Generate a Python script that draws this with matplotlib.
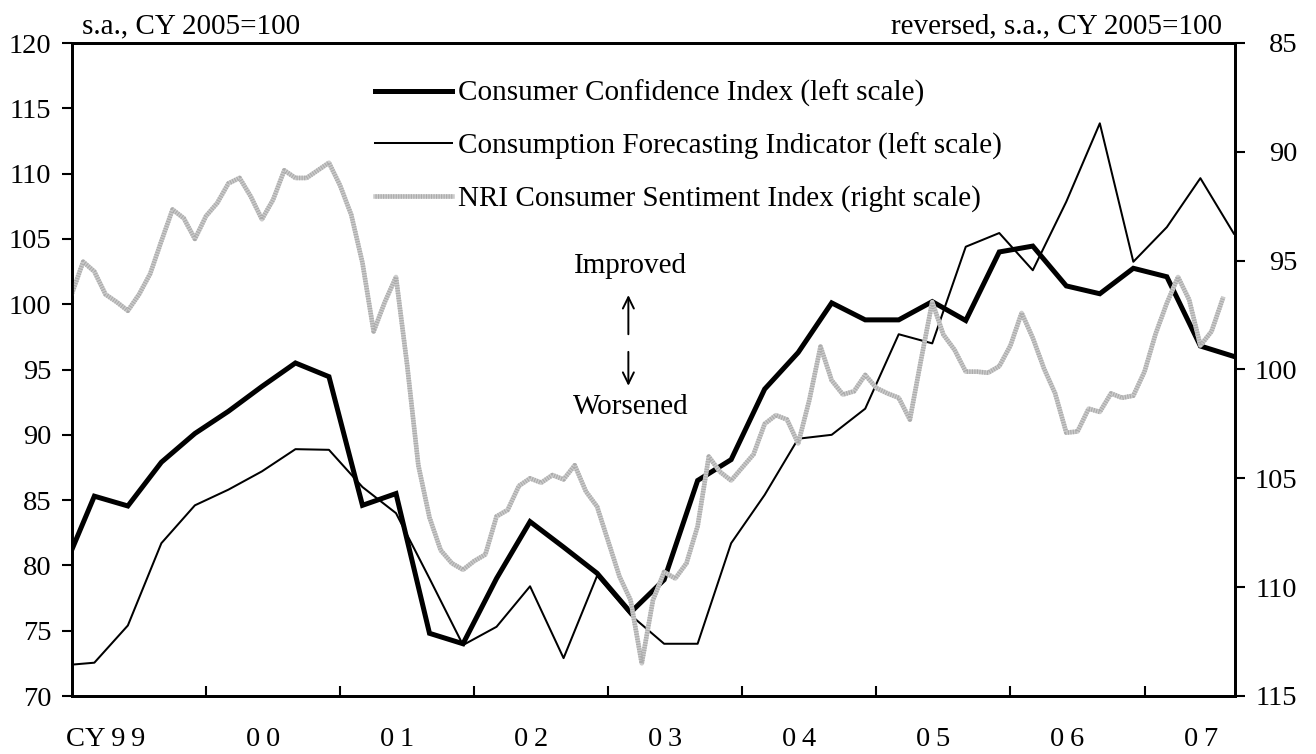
import numpy as np
import matplotlib.pyplot as plt

plt.rcParams['font.family'] = ['Liberation Serif', 'DejaVu Serif']
plt.rcParams['font.size'] = 21

# x positions are months counted from Jan 1999 (0 = Jan 99)
# quarterly surveys: Dec 1998 .. Sep 2007
quarter_months = np.arange(-1, 105, 3)
cci = [79.2, 85.3, 84.55, 87.9, 90.1, 91.8, 93.7, 95.5, 94.45, 84.6, 85.5, 74.8,
       74.0, 79.0, 83.35, 81.4, 79.4, 76.4, 78.9, 86.5, 88.1, 93.5, 96.3, 100.1,
       98.8, 98.8, 100.2, 98.75, 104.0, 104.45, 101.4, 100.8, 102.75, 102.1, 96.8, 96.0]
cfi = [72.33, 72.55, 75.4, 81.7, 84.6, 85.8, 87.2, 88.9, 88.85, 86.0, 84.0, 79.0,
       73.9, 75.3, 78.4, 72.9, 79.2, 76.2, 74.0, 74.0, 81.7, 85.4, 89.7, 90.0,
       92.0, 97.7, 97.0, 104.4, 105.45, 102.6, 107.85, 113.85, 103.25, 105.9, 109.65, 105.4]

# NRI index, monthly Jan 1999 .. Aug 2007 (right scale, reversed)
nri_months = np.arange(0, 104)
nri = [96.5, 95.05, 95.5, 96.55, 96.9, 97.3, 96.55, 95.6, 94.1, 92.65, 93.05, 94.0,
       92.95, 92.35, 91.45, 91.2, 92.05, 93.1, 92.2, 90.85, 91.2, 91.2, 90.85, 90.5,
       91.55, 92.9, 95.1, 98.25, 96.9, 95.75, 99.8, 104.4, 106.8, 108.3, 108.9, 109.2,
       108.8, 108.5, 106.75, 106.45, 105.35, 105.0, 105.2, 104.85, 105.05, 104.4, 105.6, 106.3,
       107.9, 109.5, 110.6, 113.5, 110.6, 109.3, 109.6, 108.9, 107.2, 104.0, 104.7, 105.1,
       104.5, 103.9, 102.5, 102.1, 102.3, 103.4, 101.4, 98.95, 100.5, 101.15, 101.0, 100.25,
       100.85, 101.1, 101.3, 102.3, 99.55, 96.9, 98.4, 99.1, 100.1, 100.1, 100.15, 99.85,
       98.9, 97.4, 98.55, 99.95, 101.1, 102.9, 102.85, 101.8, 101.95, 101.1, 101.3, 101.2,
       100.1, 98.35, 96.95, 95.75, 96.8, 98.9, 98.25, 96.75]

year_labels = ["CY\u20099\u20099", "0\u20090", "0\u20091", "0\u20092", "0\u20093",
               "0\u20094", "0\u20095", "0\u20096", "0\u20097"]

labels = ["Consumer Confidence Index (left scale)",
          "Consumption Forecasting Indicator (left scale)",
          "NRI Consumer Sentiment Index (right scale)"]

fig = plt.figure(figsize=(13.16, 7.54), dpi=100)
ax = fig.add_axes([72 / 1316, 1 - 696 / 754, (1235 - 72) / 1316, (696 - 43) / 754])
ax2 = ax.twinx()

l1, = ax.plot(quarter_months, cci, color='black', lw=3.6, solid_joinstyle='miter')
l2, = ax.plot(quarter_months, cfi, color='black', lw=1.45)
g1, = ax2.plot(nri_months, nri, color='#cccccc', lw=3.3)
g2, = ax2.plot(nri_months, nri, color='#ababab', lw=3.3, dashes=(0.25, 0.3))

ax.set_xlim(0, 104.1)
ax.set_ylim(70, 120)
ax.set_yticks(np.arange(70, 121, 5))
ax2.set_ylim(115, 85)
ax2.set_yticks(np.arange(85, 116, 5))

for a in (ax, ax2):
    for s in a.spines.values():
        s.set_linewidth(2)

ax.set_xticks(np.arange(12, 100, 12))
ax.set_xticklabels([])
ax.set_xticks(np.arange(len(year_labels)) * 12 + 6.6, minor=True)
ax.set_xticklabels(year_labels, minor=True)
ax.tick_params(axis='x', which='major', direction='in', length=7, width=1.5)
ax.tick_params(axis='x', which='minor', length=0, pad=22, labelsize=20.5)
for t in ax.get_xticklabels(minor=True):
    t.set_ha('right')
ax.tick_params(axis='y', direction='out', length=7, width=1.5, pad=8, labelsize=20.5)
ax2.tick_params(axis='y', direction='out', length=7, width=1.5, pad=38, labelsize=20.5)
for t in ax2.get_yticklabels():
    t.set_ha('right')

fig.text(82 / 1316, 1 - 33 / 754, "s.a., CY 2005=100", ha='left', va='baseline')
fig.text(1222 / 1316, 1 - 33 / 754, "reversed, s.a., CY 2005=100", ha='right', va='baseline')

ax.text(50.0, 102.9, "Improved", ha='center', va='center')
ax.text(50.0, 92.1, "Worsened", ha='center', va='center')
arrow = dict(arrowstyle='->,head_length=0.45,head_width=0.22', lw=1.4, color='black',
             shrinkA=0, shrinkB=0, mutation_scale=18)
ax.annotate('', xy=(49.8, 100.7), xytext=(49.8, 97.7), arrowprops=arrow)
ax.annotate('', xy=(49.8, 93.75), xytext=(49.8, 96.35), arrowprops=arrow)

ax2.legend([l1, l2, (g1, g2)], labels, loc='upper left',
           bbox_to_anchor=(375 / 1316, 1 - 80 / 754), bbox_transform=fig.transFigure,
           frameon=False, handlelength=2.64, handletextpad=0.2, labelspacing=0.87,
           borderpad=0, borderaxespad=0, fontsize=21)

fig.savefig("out.png", dpi=100)
